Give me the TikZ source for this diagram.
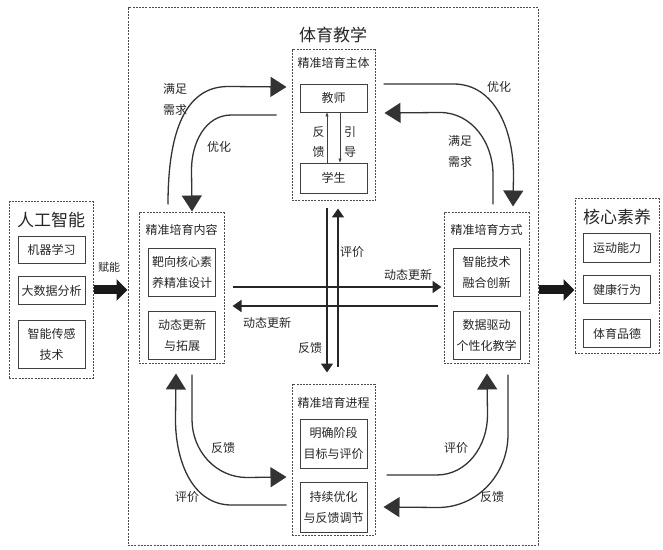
\documentclass[tikz,border=0pt]{standalone}
\usepackage{fontspec}
\setmainfont{Noto Sans CJK SC}
\usetikzlibrary{positioning,arrows.meta}

\begin{document}
\begin{tikzpicture}[x=1pt, y=1pt,
  grp/.style 2 args={draw=black!70, line width=1pt, dash pattern=on 2pt off 1.2pt,
              minimum width=#1, minimum height=#2, inner sep=0pt},
  ttl/.style={text=black!85, font=\fontsize{17}{20}\selectfont, inner sep=0pt},
  sub/.style={text=black!85, font=\fontsize{12}{14}\selectfont, inner sep=0pt},
  box/.style={draw=black!75, line width=0.9pt, align=center, text=black!85,
              font=\fontsize{12}{21}\selectfont, minimum width=67pt, inner sep=0pt},
  lbl/.style={align=center, text=black!85, font=\fontsize{12}{21}\selectfont, inner sep=0pt},
  fat/.style={line width=9pt, draw=black!90, -{Triangle[length=11pt,width=21pt]}},
  curarr/.style={line width=1.3pt, draw=black!80, -{Triangle[length=16pt,width=20pt]}},
  midarr/.style={line width=1.6pt, draw=black!85, -{Triangle[length=9pt,width=12pt]}},
  tiny/.style={line width=0.6pt, draw=black!75, -{Triangle[length=4pt,width=3pt]}}]
\useasboundingbox (0,0) rectangle (663,549);

% 体育教学
\node[grp={410pt}{537pt}] (edu) at (333,272.5) {};
\node[ttl] (edut) at (333,514) {体育教学};

% 人工智能
\node[grp={84pt}{176pt}] (ai) at (51,259) {};
\node[ttl] (ait) at (51,329) {人工智能};
\node[box, minimum height=27pt] (ml) at (51.5,299.5) {机器学习};
\node[box, minimum height=28pt, below=13pt of ml] (bd) {大数据分析};
\node[box, minimum height=48pt, below=15pt of bd] (cg) {智能传感\\技术};

% 核心素养
\node[grp={84pt}{154pt}] (core) at (617,273) {};
\node[ttl] (coret) at (617,332) {核心素养};
\node[box, minimum height=29pt] (yd) at (617,301.5) {运动能力};
\node[box, minimum height=28pt, below=13pt of yd] (jk) {健康行为};
\node[box, minimum height=28pt, below=15pt of jk] (pd) {体育品德};

% 精准培育主体
\node[grp={83pt}{151pt}] (zt) at (333.5,423.5) {};
\node[sub] (ztt) at (333.5,486) {精准培育主体};
\node[box, minimum height=28pt] (js) at (333.5,451) {教师};
\node[box, minimum height=30pt] (xs) at (333.5,371) {学生};
\draw[tiny] ([xshift=-6.5pt]xs.north) -- ([xshift=-6.5pt]js.south);
\draw[tiny] ([xshift=6.5pt]js.south) -- ([xshift=6.5pt]xs.north);
\node[lbl, font=\fontsize{12}{20}\selectfont] (fk0) at (318.5,407) {反\\馈};
\node[lbl, font=\fontsize{12}{20}\selectfont] (yd0) at (350,407) {引\\导};

% 精准培育内容
\node[grp={85pt}{150pt}] (nr) at (181.5,261) {};
\node[sub] (nrt) at (181.5,319) {精准培育内容};
\node[box, minimum height=48pt] (nr1) at (182,277) {靶向核心素\\养精准设计};
\node[box, minimum height=48pt, below=15pt of nr1] (nr2) {动态更新\\与拓展};

% 精准培育方式
\node[grp={85pt}{150pt}] (fs) at (486.5,261) {};
\node[sub] (fst) at (486.5,319) {精准培育方式};
\node[box, minimum height=48pt] (fs1) at (486.5,277) {智能技术\\融合创新};
\node[box, minimum height=48pt, below=15pt of fs1] (fs2) {数据驱动\\个性化教学};

% 精准培育进程
\node[grp={83pt}{151pt}] (jc) at (333.5,89.5) {};
\node[sub] (jct) at (333.5,146) {精准培育进程};
\node[box, minimum height=49pt] (jc1) at (333.5,105.5) {明确阶段\\目标与评价};
\node[box, minimum height=50pt, below=14pt of jc1] (jc2) {持续优化\\与反馈调节};

% 赋能 / 输出
\draw[fat] (ai.east) -- (ai.east -| edu.west);
\node[lbl, font=\fontsize{11}{13}\selectfont] (fn) at (109,282) {赋能};
\draw[fat] (ai.east -| edu.east) -- (ai.east -| core.west);

% 中间十字
\draw[midarr] ([xshift=8pt,yshift=1pt]nr.east) -- ([xshift=-2pt,yshift=1pt]fs.west);
\draw[midarr] ([xshift=-6pt,yshift=-18pt]fs.west) -- ([xshift=8pt,yshift=-18pt]nr.east);
\draw[midarr] ([xshift=-6.5pt,yshift=-7pt]zt.south) -- ([xshift=-6.5pt,yshift=11pt]jc.north);
\draw[midarr] ([xshift=4.5pt,yshift=17pt]jc.north) -- ([xshift=4.5pt,yshift=-7pt]zt.south);
\node[lbl] (gx1) at (408,274) {动态更新};
\node[lbl] (gx2) at (267,226) {动态更新};
\node[lbl] (pj0) at (352,297) {评价};
\node[lbl] (fk1) at (310,201) {反馈};

% 四角弯箭头
\draw[curarr] ([shift={(-13.5pt,8pt)}]nr.north) to[out=90,in=180] ++(60,118) -- ([shift={(-5pt,38.5pt)}]zt.west);
\draw[curarr] ([shift={(-15pt,10.5pt)}]zt.west) -- ++(-45,0) to[out=180,in=90] ++(-40,-55) -- ([shift={(10.5pt,1pt)}]nr.north);
\draw[curarr] ([shift={(8pt,41.5pt)}]zt.east) -- ++(70,0) to[out=0,in=90] ++(60,-91) -- ([shift={(26.5pt,6pt)}]fs.north);
\draw[curarr] ([shift={(6.5pt,8pt)}]fs.north) -- ++(0,30) to[out=90,in=0] ++(-53,62) -- ([shift={(9pt,12.5pt)}]zt.east);
\draw[curarr] ([shift={(10.5pt,-11pt)}]nr.south) -- ++(0,-45) to[out=-90,in=180] ++(55,-58) -- ([shift={(-5pt,-17.5pt)}]jc.west);
\draw[curarr] ([shift={(-5pt,-45.5pt)}]jc.west) -- ++(-55,0) to[out=180,in=-90] ++(-56,85) -- ([shift={(-5.5pt,-10pt)}]nr.south);
\draw[curarr] ([shift={(11pt,-15.5pt)}]jc.east) -- ++(50,0) to[out=0,in=-90] ++(51,60) -- ([shift={(0.5pt,-10pt)}]fs.south);
\draw[curarr] ([shift={(21.5pt,-11pt)}]fs.south) -- ++(0,-60) to[out=-90,in=0] ++(-70,-73) -- ([shift={(8pt,-47.5pt)}]jc.east);
\node[lbl] (mz1) at (175,450) {满足\\需求};
\node[lbl] (yh1) at (219,402) {优化};
\node[lbl] (yh2) at (499,462) {优化};
\node[lbl] (mz2) at (460,398) {满足\\需求};
\node[lbl] (fk2) at (223,101) {反馈};
\node[lbl] (pj1) at (187,52) {评价};
\node[lbl] (pj2) at (456,101) {评价};
\node[lbl] (fk3) at (492,52) {反馈};
\end{tikzpicture}
\end{document}
